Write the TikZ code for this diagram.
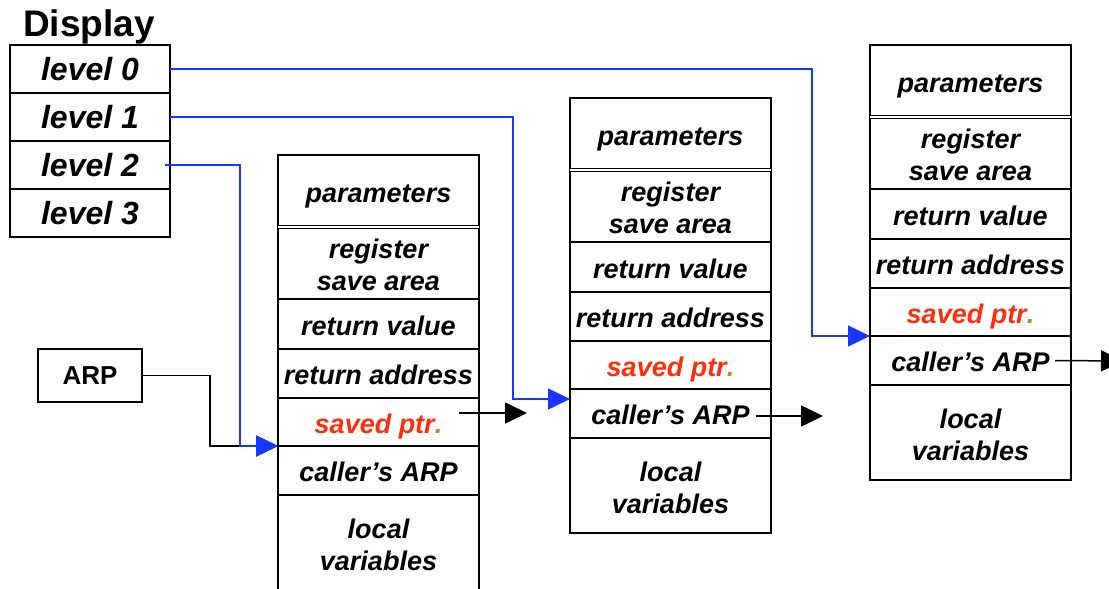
\documentclass[tikz,border=0pt]{standalone}
\usepackage{fontspec}
\setmainfont{Liberation Sans}
\usetikzlibrary{arrows.meta,calc}
\definecolor{linkblue}{RGB}{25,55,255}
\definecolor{ptrred}{RGB}{255,45,10}
\definecolor{ptrdot}{RGB}{190,135,40}
\tikzset{
  cell/.style={draw, line width=2pt, minimum width=201pt, inner sep=0pt, outer sep=0pt,
    anchor=north, align=center, font=\fontsize{27}{32}\selectfont\bfseries\itshape},
  oneline/.style={text height=22pt, text depth=0pt},
  celltext/.style={align=center, font=\fontsize{27}{32}\selectfont\bfseries\itshape, inner sep=0pt},
  lvl/.style={draw, line width=2pt, minimum width=160pt, minimum height=48pt, inner sep=0pt,
    outer sep=0pt, font=\fontsize{32}{38}\selectfont\bfseries\itshape},
  link/.style={linkblue, line width=1.5pt, -{Triangle[length=22pt,width=21pt]}},
  ptr/.style={black, line width=1.5pt, -{Triangle[length=22pt,width=21pt]}},
}
% one activation record: name, centre x, top y, height of the last cell
\newcommand\actrec[4]{%
  \node[cell,oneline,minimum height=72pt] (#1-par) at (#2,#3) {parameters};
  \node[cell,minimum height=72pt] (#1-reg) at (#1-par.south) {};
  \node[celltext] (#1-regt) at ([yshift=-2pt]#1-reg.center) {register\\save area};
  \node[cell,oneline,minimum height=50pt] (#1-rv) at (#1-reg.south) {return value};
  \node[cell,oneline,minimum height=49pt] (#1-ra) at (#1-rv.south) {return address};
  \node[cell,oneline,minimum height=48pt] (#1-sp) at (#1-ra.south) {\color{ptrred}saved ptr\textcolor{ptrdot}{.}};
  \node[cell,oneline,minimum height=49pt] (#1-ca) at (#1-sp.south) {caller’s ARP};
  \node[cell,minimum height=#4] (#1-lv) at (#1-ca.south) {};
  \node[celltext] (#1-lvt) at ([yshift=-2pt]#1-lv.center) {local\\variables};
  \draw[line width=1.5pt, double, double distance=1.2pt] (#1-par.south west) -- (#1-par.south east);
}
\begin{document}
\begin{tikzpicture}[x=1pt, y=-1pt]
\useasboundingbox (0,0) rectangle (1109,589);
\clip (0,0) rectangle (1109,589);
\fill[white] (0,0) rectangle (1109,589);

% display vector
\node[anchor=base, font=\fontsize{37}{40}\selectfont\bfseries] (title) at (89,36) {Display};
\node[lvl] (lv0) at (90,69) {level 0};
\node[lvl] (lv1) at (90,117) {level 1};
\node[lvl] (lv2) at (90,165) {level 2};
\node[lvl] (lv3) at (90,213) {level 3};

% activation records
\actrec{s1}{378.5}{155}{96pt}
\actrec{s2}{670.5}{98}{95pt}
\actrec{s3}{970.5}{45}{95pt}

% ARP register
\node[draw, line width=2pt, minimum width=104pt, minimum height=53pt, inner sep=0pt,
  font=\fontsize{26}{30}\selectfont\bfseries] (arp) at (90,375.5) {ARP};

% bends and loose ends
\coordinate (j0) at (812,0);
\coordinate (j1) at (513,0);
\coordinate (j2) at (240,0);
\coordinate (ja) at (210,0);
\coordinate (lv2o) at ([xshift=-5pt]lv2.east);
\coordinate (s2in) at ([yshift=-10pt]s2-ca.north west);
\coordinate (s1-out) at ([xshift=80pt,yshift=9pt]s1-sp.center);
\coordinate (s1-end) at (527,413);
\coordinate (s2-out) at ([xshift=85pt,yshift=-2.5pt]s2-ca.center);
\coordinate (s2-end) at (823,416);
\coordinate (s3-out) at ([xshift=84.5pt]s3-ca.center);
\coordinate (s3-end) at (1123,361);

% ARP points at the current record
\draw[ptr] (arp.east) -| (ja |- s1-ca.north west) -- (s1-ca.north west);

% display links
\draw[link] (lv0.east) -| (j0 |- s3-ca.north west) -- (s3-ca.north west);
\draw[link] (lv1.east) -| (j1 |- s2in) -- (s2in);
\draw[link] (lv2o) -| (j2 |- s1-ca.north west) -- (s1-ca.north west);

% outgoing pointers
\draw[ptr] (s1-out) -- (s1-end);
\draw[ptr] (s2-out) -- (s2-end);
\draw[ptr] (s3-out) -- (s3-end);
\end{tikzpicture}
\end{document}
